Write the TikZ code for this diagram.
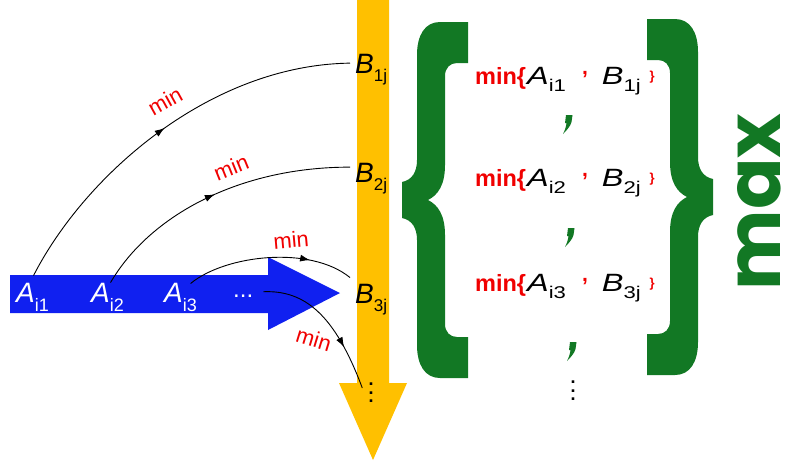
\documentclass[tikz,border=0pt]{standalone}
\usepackage{fontspec}
\setmainfont{Liberation Sans}
\newfontfamily\pop{Poppins}
\usetikzlibrary{arrows.meta,decorations.markings}
\definecolor{gr}{RGB}{18,120,36}
\definecolor{yel}{RGB}{255,192,0}
\definecolor{blu}{RGB}{16,32,240}
\definecolor{rd}{RGB}{240,0,0}
\newcommand\AB[5]{{\fontsize{#3}{#3}\selectfont\itshape #1}\raisebox{-#5pt}{\fontsize{#4}{#4}\selectfont #2}}
\newcommand\ABw[2]{\scalebox{1.3}[1]{\AB{#1}{#2}{25}{17}{7}}}
\newcommand\mnx{{\color{rd}\fontsize{23.5}{23.5}\selectfont\bfseries min\{}}
\newcommand\rcm{\raisebox{10pt}{\color{rd}\fontsize{21}{21}\selectfont\bfseries ,}}
\newcommand\rbr{\raisebox{4pt}{\color{rd}\fontsize{13}{13}\selectfont\bfseries \}}}
\newcommand\rowtxt[2]{\mnx\hspace{1pt}\ABw{A}{#1}\hspace{16pt}\rcm\hspace{14pt}\ABw{B}{#2}\hspace{9pt}\rbr}
\tikzset{
  cv/.style={draw=black, line width=0.9pt, postaction=decorate,
    decoration={markings, mark=at position #1 with {\arrow{Latex[length=10pt,width=7pt]}}}},
  cv/.default=0.5,
  mlab/.style={text=rd, font=\fontsize{22}{22}\selectfont, inner sep=0},
  wt/.style={text=white, inner sep=0},
  bt/.style={text=black, inner sep=0},
  vdot/.style={font=\fontsize{18}{8.5}\selectfont\bfseries, align=center, inner sep=0},
  gcomma/.pic={\fill[gr] (3,0) -- (9.5,0) -- (8.5,7) .. controls (7.5,11) and (4,15) .. (0,19) .. controls (2,15) and (3,12) .. (3.5,8) -- (2,8) -- cycle;}
}
\begin{document}
\begin{tikzpicture}[x=1pt,y=-1pt]
\useasboundingbox (0,0) rectangle (789,464);
% blue arrow
\fill[blu] (10,275) -- (268,275) -- (268,257) -- (340,293) -- (268,330) -- (268,313) -- (10,313) -- cycle;
% yellow arrow
\fill[yel] (357,0) -- (389,0) -- (389,383) -- (407,383) -- (373,460) -- (339,383) -- (357,383) -- cycle;
% A labels
\node[wt, anchor=base west] (a1) at (16,302) {\AB{A}{i1}{28}{18}{9}};
\node[wt, anchor=base west] (a2) at (91,302) {\AB{A}{i2}{28}{18}{9}};
\node[wt, anchor=base west] (a3) at (164,302) {\AB{A}{i3}{28}{18}{9}};
\node[wt, anchor=base west, font=\fontsize{24}{24}\selectfont] (ad) at (233,297) {...};
% B labels
\node[bt, anchor=base west] (b1) at (355,73) {\AB{B}{1j}{28}{17}{8}};
\node[bt, anchor=base west] (b2) at (355,182) {\AB{B}{2j}{28}{17}{8}};
\node[bt, anchor=base west] (b3) at (355,303) {\AB{B}{3j}{28}{17}{8}};
\node[vdot] (vd) at (371,393) {.\\.\\.};
% curves
\draw[cv=0.5] ([xshift=1pt,yshift=7pt]a1.north) .. controls (85,175) and (210,65) .. ([xshift=-5pt,yshift=6pt]b1.west);
\draw[cv=0.5] ([xshift=3pt]a2.north) .. controls (150,215) and (240,167) .. ([xshift=-5pt,yshift=11pt]b2.west);
\draw[cv=0.74] ([xshift=10pt,yshift=-1pt]a3.north) .. controls (225,255) and (310,245) .. ([xshift=-5pt,yshift=6pt]b3.north west);
\draw[cv=0.7] ([xshift=10pt,yshift=4pt]ad.east) .. controls (305,290) and (335,315) .. ([xshift=-6pt,yshift=5pt]vd.west);
% min labels
\node[mlab, rotate=29] (m1) at (165,101) {min};
\node[mlab, rotate=22] (m2) at (231,167) {min};
\node[mlab, rotate=5] (m3) at (291,240) {min};
\node[mlab, rotate=-17] (m4) at (314,339) {min};
% braces
\fill[gr] (468,22) -- (440,22) .. controls (425,22) and (417,35) .. (417,55) -- (417,160) .. controls (417,172) and (412,180) .. (402,182) -- (402,218) .. controls (412,220) and (417,228) .. (417,240) -- (417,345) .. controls (417,365) and (425,378) .. (440,378) -- (468,378) -- (468,337) -- (457,337) .. controls (450,337) and (445,332) .. (445,324) -- (445,235) .. controls (445,215) and (438,205) .. (428,200) .. controls (438,195) and (445,185) .. (445,165) -- (445,76) .. controls (445,68) and (450,63) .. (457,63) -- (468,63) -- cycle;
\begin{scope}[shift={(1115,-3)},xscale=-1]
\fill[gr] (468,22) -- (440,22) .. controls (425,22) and (417,35) .. (417,55) -- (417,160) .. controls (417,172) and (412,180) .. (402,182) -- (402,218) .. controls (412,220) and (417,228) .. (417,240) -- (417,345) .. controls (417,365) and (425,378) .. (440,378) -- (468,378) -- (468,337) -- (457,337) .. controls (450,337) and (445,332) .. (445,324) -- (445,235) .. controls (445,215) and (438,205) .. (428,200) .. controls (438,195) and (445,185) .. (445,165) -- (445,76) .. controls (445,68) and (450,63) .. (457,63) -- (468,63) -- cycle;
\end{scope}
% rows
\node[bt, anchor=base west] (r1) at (475,84) {\rowtxt{i1}{1j}};
\node[bt, anchor=base west] (r2) at (475,186) {\rowtxt{i2}{2j}};
\node[bt, anchor=base west] (r3) at (475,291) {\rowtxt{i3}{3j}};
\pic at (563,115) {gcomma};
\pic at (565,228) {gcomma};
\pic at (567,342) {gcomma};
\node[vdot] (vd2) at (573,391) {.\\.\\.};
% max
\node[text=gr, rotate=90, inner sep=0, font=\pop\bfseries\fontsize{76}{76}\selectfont] (mx) at (759,202) {max};
\end{tikzpicture}
\end{document}
